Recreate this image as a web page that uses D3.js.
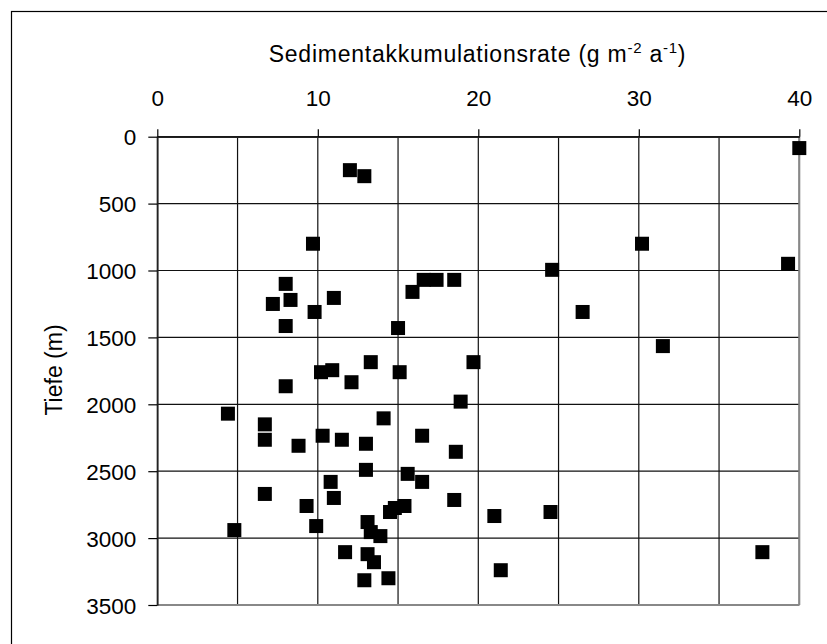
<!DOCTYPE html>
<html><head><meta charset="utf-8">
<script src="https://cdn.jsdelivr.net/npm/d3@7"></script>
<style>body{margin:0;background:#fff}svg{display:block}text{font-family:"Liberation Sans",Arial,sans-serif;fill:#000}</style>
</head><body>
<script>
const rate = [12.0,12.9,9.7,8.0,7.2,8.3,11.0,9.8,8.0,15.0,15.9,16.6,17.4,18.5,40.0,30.2,24.6,39.3,26.5,31.5,19.7,13.3,10.2,10.9,15.1,8.0,12.1,18.9,4.4,6.7,6.7,8.8,10.3,11.5,13.0,14.1,16.5,18.6,13.0,15.6,16.5,10.8,6.7,11.0,9.3,18.5,15.4,14.8,14.5,4.8,9.9,13.1,13.3,13.9,11.7,13.1,13.5,12.9,14.4,21.0,24.5,21.4,37.7];
const depth = [250,295,800,1100,1250,1220,1205,1310,1415,1430,1160,1070,1070,1070,85,800,995,950,1310,1565,1685,1685,1760,1745,1760,1865,1835,1980,2070,2150,2265,2310,2235,2265,2295,2105,2235,2355,2490,2520,2580,2580,2670,2700,2760,2715,2760,2775,2805,2940,2910,2880,2955,2985,3105,3120,3180,3315,3300,2835,2805,3240,3105];
const xTicks = [0,10,20,30,40];
const xGrid = [0,5,10,15,20,25,30,35,40];
const yTicks = [0,500,1000,1500,2000,2500,3000,3500];

const W=827,H=644;
const svg=d3.select("body").append("svg").attr("width",W).attr("height",H);
svg.append("rect").attr("x",11.5).attr("y",11.5).attr("width",W+20).attr("height",H+20).attr("fill","none").attr("stroke","#000").attr("stroke-width",1.2);

const x=d3.scaleLinear().domain([0,40]).range([157.3,799.3]);
const y=d3.scaleLinear().domain([0,3500]).range([136.7,605]);

const g=svg.append("g");
g.selectAll(".vg").data(xGrid).join("line").attr("x1",d=>x(d)).attr("x2",d=>x(d)).attr("y1",y(0)).attr("y2",y(3500)).attr("stroke","#111").attr("stroke-width",1.2);
g.selectAll(".hg").data(yTicks).join("line").attr("x1",x(0)).attr("x2",x(40)).attr("y1",d=>y(d)).attr("y2",d=>y(d)).attr("stroke","#111").attr("stroke-width",1.2);
g.append("line").attr("x1",x(40)).attr("x2",x(40)).attr("y1",y(0)).attr("y2",y(3500)).attr("stroke","#888").attr("stroke-width",2);
g.append("line").attr("x1",x(0)).attr("x2",x(40)).attr("y1",y(3500)).attr("y2",y(3500)).attr("stroke","#888").attr("stroke-width",2);

const FS=22.5;
const xa=svg.append("g").attr("transform",`translate(0,${y(0)})`).call(d3.axisTop(x).tickValues(xGrid).tickSize(7.5).tickFormat(d=>xTicks.includes(d)?d:"").tickSizeOuter(0));
xa.select(".domain").attr("stroke","#222").attr("stroke-width",1.6);
xa.selectAll(".tick line").attr("stroke","#000").attr("stroke-width",1.2);
xa.selectAll(".tick").filter(d=>!xTicks.includes(d)).select("line").remove();
xa.selectAll(".tick text").attr("font-size",FS).attr("dy",0).attr("y",-30.5).attr("font-family","Liberation Sans, Arial, sans-serif").attr("fill","#000");

const ya=svg.append("g").attr("transform",`translate(${x(0)},0)`).call(d3.axisLeft(y).tickValues(yTicks).tickSize(9).tickSizeOuter(0).tickFormat(d3.format("d")));
ya.select(".domain").attr("stroke","#222").attr("stroke-width",1.6);
ya.selectAll(".tick line").attr("stroke","#000").attr("stroke-width",1.2);
ya.selectAll(".tick text").attr("font-size",FS).attr("x",-21).attr("dy","0.36em").attr("font-family","Liberation Sans, Arial, sans-serif").attr("fill","#000");

const s=14;
svg.append("g").selectAll("rect").data(rate.map((r,i)=>[r,depth[i]])).join("rect")
 .attr("x",d=>x(d[0])-s/2).attr("y",d=>y(d[1])-s/2).attr("width",s).attr("height",s).attr("fill","#000");

const t=svg.append("text").attr("x",477.5).attr("y",62).attr("text-anchor","middle").attr("font-size",23).attr("letter-spacing",0.75);
t.append("tspan").text("Sedimentakkumulationsrate (g m");
t.append("tspan").attr("font-size",15).attr("dy",-9).text("-2");
t.append("tspan").attr("dy",9).text(" a");
t.append("tspan").attr("font-size",15).attr("dy",-9).text("-1");
t.append("tspan").attr("dy",9).text(")");

svg.append("text").attr("transform","translate(62,370) rotate(-90)").attr("text-anchor","middle").attr("font-size",23).text("Tiefe (m)");
</script>
</body></html>
